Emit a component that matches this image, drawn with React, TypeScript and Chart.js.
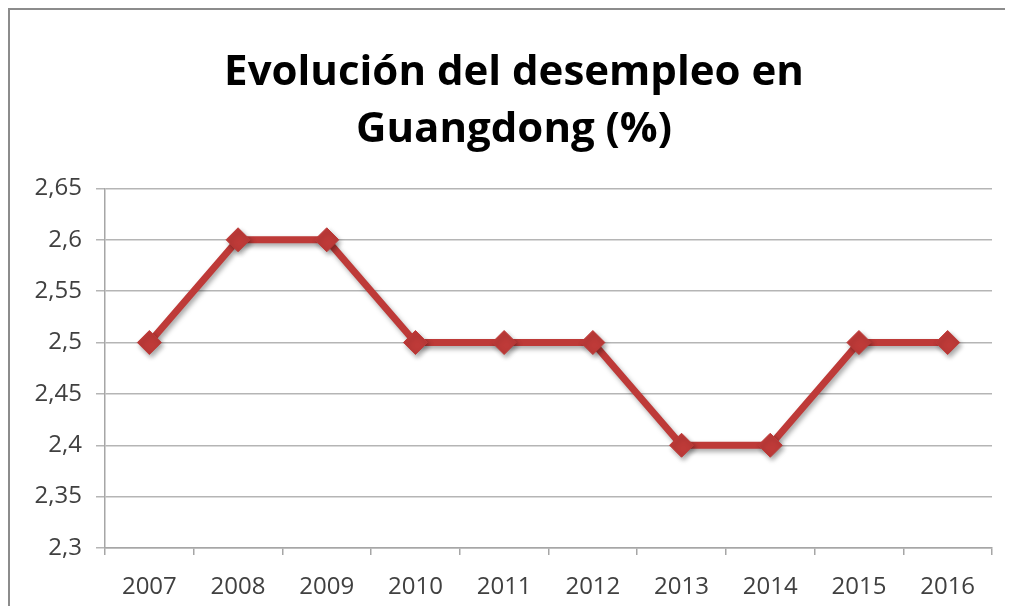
import React, { useEffect, useRef } from "react";
import { Chart, registerables } from "chart.js";

Chart.register(...registerables);

const years = ["2007", "2008", "2009", "2010", "2011", "2012", "2013", "2014", "2015", "2016"];
const unemployment = [2.5, 2.6, 2.6, 2.5, 2.5, 2.5, 2.4, 2.4, 2.5, 2.5];
const titleLines = ["Evolución del desempleo en", "Guangdong (%)"];
const yMin = 2.3;
const yMax = 2.65;
const yStep = 0.05;

const FONT = "'Open Sans', 'Noto Sans', sans-serif";
const LINE_COLOR = "#be3a38";

const shadowPlugin = {
  id: "lineShadow",
  afterLayout(chart: any) {
    if (chart.titleBlock) {
      chart.titleBlock.left = chart.titleBlock.left + 25;
    }
  },
  beforeDatasetsDraw(chart: any) {
    const ctx = chart.ctx;
    ctx.save();
    ctx.shadowColor = "rgba(0,0,0,0.35)";
    ctx.shadowBlur = 5;
    ctx.shadowOffsetX = 2;
    ctx.shadowOffsetY = 3;
  },
  afterDatasetsDraw(chart: any) {
    chart.ctx.restore();
  },
};

export default function App() {
  const ref = useRef<HTMLCanvasElement>(null);

  useEffect(() => {
    if (!ref.current) return;
    const chart = new Chart(ref.current, {
      type: "line",
      data: {
        labels: years,
        datasets: [
          {
            data: unemployment,
            borderColor: LINE_COLOR,
            backgroundColor: LINE_COLOR,
            borderWidth: 7,
            pointStyle: "rectRot",
            pointRadius: 12,
            pointBackgroundColor: LINE_COLOR,
            pointBorderColor: LINE_COLOR,
            pointBorderWidth: 1,
            tension: 0,
          },
        ],
      },
      plugins: [shadowPlugin],
      options: {
        animation: false,
        responsive: false,
        maintainAspectRatio: false,
        layout: { padding: { left: 0, right: 12, top: 0, bottom: 8 } },
        plugins: {
          legend: { display: false },
          tooltip: { enabled: false },
          title: {
            display: true,
            text: titleLines,
            color: "#000000",
            font: { family: FONT, size: 42, weight: "bold", lineHeight: 1.35 },
            padding: { top: 35, bottom: 30 },
          },
        },
        scales: {
          x: {
            offset: true,
            grid: {
              offset: true,
              drawOnChartArea: false,
              drawTicks: true,
              tickLength: 7,
              color: "#a6a6a6",
              lineWidth: 1.5,
            },
            border: { display: true, color: "#a6a6a6", width: 1.5 },
            ticks: {
              color: "#404040",
              font: { family: FONT, size: 24 },
              padding: 18,
              maxRotation: 0,
            },
            afterFit(scale: any) {
              scale.height = 50;
            },
          },
          y: {
            min: yMin,
            max: yMax,
            grid: {
              color: "#b5b5b5",
              lineWidth: 1.5,
              tickLength: 9,
            },
            border: { display: true, color: "#a6a6a6", width: 1.5 },
            ticks: {
              stepSize: yStep,
              color: "#404040",
              font: { family: FONT, size: 24 },
              padding: 14,
              callback: (v: any) => String(Number(Number(v).toFixed(2))).replace(".", ","),
            },
            afterFit(scale: any) {
              scale.width = 95;
            },
          },
        },
      },
    });
    return () => chart.destroy();
  }, []);

  return (
    <div
      style={{
        width: 995,
        height: 596,
        borderTop: "2px solid #8c8c8c",
        borderLeft: "2px solid #8c8c8c",
        background: "#ffffff",
      }}
    >
      <canvas ref={ref} width={995} height={596} style={{ display: "block" }} />
    </div>
  );
}
